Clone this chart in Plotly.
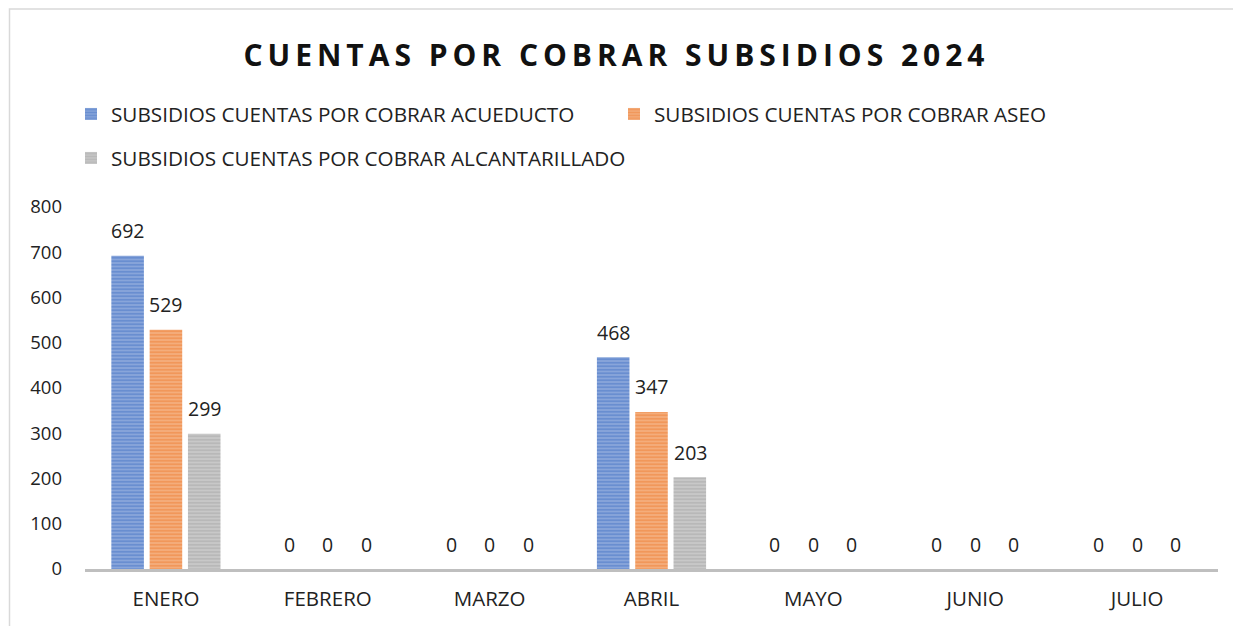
import plotly.graph_objects as go

months = ["ENERO", "FEBRERO", "MARZO", "ABRIL", "MAYO", "JUNIO", "JULIO"]
acueducto = [692, 0, 0, 468, 0, 0, 0]
aseo = [529, 0, 0, 347, 0, 0, 0]
alcantarillado = [299, 0, 0, 203, 0, 0, 0]
series_names = [
    "SUBSIDIOS CUENTAS POR COBRAR ACUEDUCTO",
    "SUBSIDIOS CUENTAS POR COBRAR ASEO",
    "SUBSIDIOS CUENTAS POR COBRAR ALCANTARILLADO",
]
title_text = "CUENTAS POR COBRAR SUBSIDIOS 2024"

FONT = "Open Sans"
styles = [
    ("#4472C4", "#8FAADC", "legend", -38.5),
    ("#ED7D31", "#F4B183", "legend", 0.0),
    ("#A5A5A5", "#CBCBCB", "legend2", 38.5),
]

# page offset of the plot div (default body margin)
OFF = 8
W, H = 1241 - OFF, 626 - OFF
# plot area geometry in page pixels
PL, PR, PT, PB = 85, 1218, 207, 569
PW, PH = PR - PL, PB - PT

fig = go.Figure()
annotations = []
for name, vals, (fg, bg, lg, dx) in zip(series_names, [acueducto, aseo, alcantarillado], styles):
    fig.add_trace(go.Bar(
        x=months, y=vals, name=name, legend=lg,
        marker=dict(color=bg, line=dict(width=0),
                    pattern=dict(shape="-", fgcolor=fg, bgcolor=bg, size=3.5, solidity=0.6)),
    ))
    for m, v in zip(months, vals):
        annotations.append(dict(x=m, y=v, xref="x", yref="y", text=str(v), showarrow=False,
                                xshift=dx, yshift=25, yanchor="middle",
                                font=dict(size=19.5, color="#222", family=FONT)))

spaced = "\u2009".join(list(title_text))

fig.update_layout(
    width=W, height=H,
    paper_bgcolor="white", plot_bgcolor="white",
    margin=dict(l=PL - OFF, r=W - (PR - OFF), t=PT - OFF, b=H - (PB - OFF)),
    barmode="group", bargap=0.29, bargroupgap=0.15,
    font=dict(family=FONT, size=18, color="#222"),
    title=dict(text="<b>" + spaced + "</b>", x=(614 - OFF) / W, xanchor="center",
               y=1 - (55 - OFF) / H, yanchor="middle",
               font=dict(size=30, color="#111", family=FONT)),
    legend=dict(orientation="h", x=(71 - PL) / PW, xref="paper", y=(PB - 114) / PH, yref="paper",
                xanchor="left", yanchor="middle", entrywidth=498, font=dict(size=20.7, family=FONT),
                itemwidth=30, traceorder="normal", bgcolor="rgba(0,0,0,0)"),
    legend2=dict(orientation="h", x=(71 - PL) / PW, xref="paper", y=(PB - 158) / PH, yref="paper",
                 xanchor="left", yanchor="middle", font=dict(size=20.7, family=FONT),
                 itemwidth=30, bgcolor="rgba(0,0,0,0)"),
    xaxis=dict(showline=True, linecolor="#BFBFBF", linewidth=2.5, ticks="", automargin=False,
               tickfont=dict(size=20.5, family=FONT), showgrid=False, ticklabelstandoff=10),
    yaxis=dict(range=[0, 800], dtick=100, showgrid=False, zeroline=False, showline=False,
               automargin=False, tickfont=dict(size=18.5, family=FONT), ticklabelstandoff=22),
    annotations=annotations,
    shapes=[dict(type="rect", xref="paper", yref="paper",
                 x0=(9.5 - PL) / PW, x1=(1260 - PL) / PW,
                 y0=-0.3, y1=(PB - 9) / PH,
                 line=dict(color="#D9D9D9", width=1.5), layer="below")],
)

fig.write_html("out.html")
